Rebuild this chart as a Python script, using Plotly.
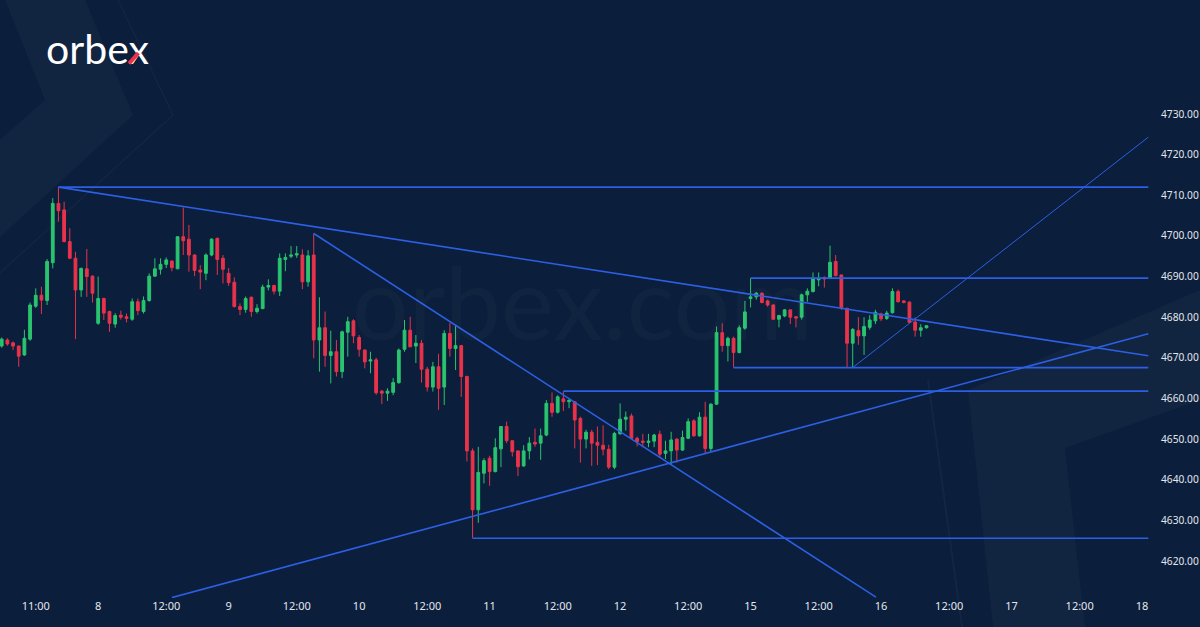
import plotly.graph_objects as go

# ---------------- data (hourly candles, bar index 0 = first visible bar) ----------------
opens = [4672.9, 4674.4, 4673.7, 4672.9, 4670.7, 4674.6, 4682.7, 4685.4, 4684.1, 4693.4,
         4708.0, 4706.4, 4698.6, 4694.5, 4686.7, 4691.9, 4690.1, 4678.5, 4684.6, 4681.4,
         4678.3, 4680.5, 4680.1, 4679.5, 4683.8, 4681.4, 4684.1, 4690.1, 4691.8, 4693.0,
         4693.8, 4691.9, 4699.8, 4699.2, 4695.3, 4691.6, 4690.8, 4695.3, 4699.4, 4694.5,
         4690.8, 4688.6, 4682.6, 4681.9, 4684.9, 4681.4, 4682.1, 4687.4, 4687.8, 4686.4,
         4694.2, 4695.0, 4695.3, 4695.3, 4688.7, 4695.3, 4674.4, 4677.4, 4670.6, 4671.5,
         4666.6, 4676.3, 4679.1, 4675.0, 4671.9, 4669.2, 4669.5, 4661.8, 4661.3, 4661.5,
         4663.9, 4672.1, 4676.8, 4672.9, 4673.6, 4667.2, 4662.8, 4667.8, 4662.8, 4676.0,
         4672.3, 4673.0, 4665.4, 4647.1, 4632.6, 4641.6, 4645.3, 4642.0, 4647.6, 4653.1,
         4649.6, 4647.1, 4643.4, 4647.1, 4649.2, 4649.0, 4651.0, 4658.8, 4656.6, 4659.9,
         4659.2, 4659.2, 4655.1, 4650.0, 4651.7, 4649.2, 4648.5, 4647.5, 4643.1, 4651.3,
         4654.9, 4655.7, 4650.2, 4649.5, 4649.2, 4649.5, 4651.2, 4646.5, 4647.1, 4650.0,
         4647.3, 4650.2, 4654.5, 4650.8, 4655.4, 4647.7, 4658.6, 4676.2, 4673.0, 4674.8,
         4671.3, 4677.3, 4684.6, 4685.0, 4685.9, 4684.0, 4683.0, 4679.5, 4680.3, 4681.8,
         4680.1, 4680.0, 4685.5, 4686.3, 4689.2, 4689.8, 4689.6, 4693.7, 4690.4, 4682.2,
         4673.6, 4676.7, 4675.4, 4677.5, 4679.1, 4680.8, 4679.7, 4681.1, 4686.3, 4684.0,
         4683.7, 4678.8, 4676.8, 4677.4]
highs = [4675.0, 4674.8, 4674.0, 4673.0, 4676.9, 4683.6, 4687.1, 4687.5, 4694.3, 4709.3,
         4712.0, 4708.4, 4701.9, 4696.1, 4692.2, 4696.8, 4690.3, 4690.0, 4684.8, 4681.6,
         4681.0, 4681.6, 4680.9, 4684.6, 4684.6, 4685.1, 4690.8, 4694.5, 4694.5, 4694.7,
         4694.0, 4699.9, 4707.0, 4702.7, 4695.5, 4692.8, 4695.7, 4699.4, 4699.6, 4695.3,
         4692.1, 4689.8, 4683.4, 4685.1, 4685.1, 4683.2, 4688.0, 4689.3, 4688.0, 4695.7,
         4695.7, 4697.5, 4697.5, 4696.7, 4696.5, 4700.6, 4684.9, 4681.4, 4676.7, 4674.4,
         4676.7, 4680.1, 4679.5, 4675.6, 4672.1, 4671.5, 4670.0, 4662.1, 4662.5, 4665.0,
         4672.3, 4679.3, 4680.1, 4675.6, 4674.4, 4667.8, 4669.0, 4671.0, 4676.8, 4678.6,
         4677.8, 4673.2, 4665.6, 4647.7, 4648.1, 4645.3, 4645.9, 4650.2, 4653.2, 4654.3,
         4649.7, 4647.2, 4648.5, 4650.5, 4652.6, 4652.6, 4659.6, 4661.5, 4660.8, 4661.8,
         4660.1, 4659.4, 4655.5, 4652.3, 4652.3, 4653.1, 4653.4, 4648.6, 4651.8, 4658.8,
         4656.8, 4656.3, 4650.6, 4651.3, 4651.3, 4651.3, 4652.1, 4649.6, 4651.8, 4650.2,
         4652.1, 4655.1, 4654.9, 4656.6, 4659.2, 4658.8, 4677.7, 4678.5, 4675.2, 4675.2,
         4678.0, 4684.0, 4689.6, 4686.2, 4686.1, 4684.3, 4683.2, 4680.6, 4682.0, 4681.8,
         4680.3, 4685.8, 4687.1, 4691.0, 4691.0, 4690.0, 4697.6, 4695.3, 4690.4, 4682.2,
         4677.3, 4680.0, 4680.0, 4680.5, 4681.8, 4681.1, 4681.6, 4687.1, 4686.8, 4684.2,
         4683.9, 4680.0, 4678.3, 4678.0]
lows = [4672.5, 4673.0, 4671.9, 4667.8, 4670.5, 4674.2, 4682.3, 4680.8, 4683.0, 4692.0,
        4703.5, 4698.4, 4694.3, 4674.6, 4685.0, 4685.0, 4683.6, 4678.1, 4679.3, 4676.4,
        4677.4, 4679.4, 4678.7, 4679.1, 4680.5, 4680.9, 4683.8, 4689.9, 4690.5, 4692.1,
        4691.3, 4691.9, 4695.3, 4691.2, 4690.1, 4686.9, 4689.1, 4695.0, 4690.4, 4688.3,
        4687.7, 4682.4, 4680.5, 4681.1, 4680.1, 4680.9, 4682.0, 4686.6, 4685.6, 4685.2,
        4691.3, 4694.5, 4694.6, 4686.9, 4687.5, 4669.9, 4666.6, 4667.8, 4663.7, 4665.4,
        4665.0, 4670.3, 4673.6, 4670.3, 4667.4, 4666.2, 4660.9, 4658.6, 4659.4, 4660.8,
        4663.6, 4671.5, 4672.7, 4668.7, 4663.9, 4661.7, 4661.7, 4657.2, 4658.4, 4670.3,
        4667.0, 4660.4, 4644.5, 4625.6, 4629.4, 4639.1, 4638.5, 4641.8, 4643.1, 4649.0,
        4645.7, 4640.9, 4643.2, 4645.0, 4648.1, 4644.9, 4650.7, 4655.5, 4656.3, 4656.9,
        4657.6, 4647.7, 4644.2, 4647.7, 4643.4, 4643.6, 4646.0, 4642.6, 4642.6, 4651.1,
        4652.1, 4650.0, 4648.2, 4648.0, 4648.0, 4648.0, 4645.5, 4645.1, 4643.8, 4644.2,
        4647.1, 4650.0, 4650.6, 4650.6, 4646.3, 4646.9, 4658.4, 4671.5, 4669.1, 4667.6,
        4671.1, 4676.9, 4682.4, 4684.3, 4683.4, 4682.6, 4679.3, 4677.5, 4680.0, 4678.3,
        4677.5, 4679.4, 4683.8, 4686.1, 4687.6, 4687.3, 4689.6, 4690.2, 4681.8, 4667.6,
        4667.6, 4673.2, 4670.7, 4676.9, 4678.3, 4679.0, 4679.3, 4680.9, 4683.6, 4683.4,
        4678.6, 4675.2, 4675.2, 4677.2]
closes = [4674.6, 4673.4, 4672.9, 4670.4, 4674.8, 4683.0, 4685.4, 4684.2, 4693.7, 4708.0,
          4706.2, 4698.6, 4694.5, 4686.7, 4692.0, 4690.0, 4685.9, 4684.6, 4681.0, 4678.5,
          4680.4, 4680.0, 4679.7, 4683.8, 4681.6, 4684.1, 4690.1, 4691.9, 4693.0, 4694.1,
          4692.2, 4699.8, 4698.8, 4695.3, 4691.5, 4691.1, 4695.3, 4699.2, 4694.2, 4691.8,
          4688.5, 4682.6, 4681.9, 4684.6, 4681.4, 4682.2, 4687.4, 4687.8, 4686.4, 4694.5,
          4694.7, 4695.3, 4695.6, 4688.7, 4695.1, 4674.4, 4677.4, 4670.6, 4671.5, 4666.6,
          4676.4, 4678.9, 4675.4, 4672.1, 4669.0, 4669.5, 4661.4, 4661.3, 4661.8, 4663.9,
          4671.9, 4676.8, 4672.7, 4673.6, 4667.2, 4662.8, 4667.8, 4662.5, 4676.0, 4672.3,
          4673.0, 4665.4, 4647.1, 4632.6, 4641.8, 4644.7, 4642.0, 4647.9, 4653.1, 4649.6,
          4646.9, 4643.2, 4647.1, 4649.0, 4648.8, 4650.8, 4658.8, 4656.6, 4660.4, 4659.2,
          4659.5, 4654.7, 4650.0, 4651.7, 4649.0, 4648.5, 4647.5, 4643.1, 4651.4, 4654.9,
          4655.4, 4650.2, 4649.4, 4649.2, 4649.5, 4651.0, 4646.3, 4647.1, 4649.8, 4647.3,
          4650.4, 4654.3, 4650.8, 4655.4, 4647.7, 4658.6, 4676.2, 4673.0, 4674.8, 4671.3,
          4677.4, 4681.3, 4685.0, 4685.9, 4683.6, 4683.0, 4679.5, 4680.4, 4681.8, 4680.0,
          4679.8, 4685.5, 4686.4, 4689.6, 4689.6, 4689.4, 4693.5, 4690.2, 4682.2, 4673.6,
          4677.0, 4675.4, 4677.7, 4679.3, 4681.2, 4679.6, 4681.0, 4686.3, 4683.8, 4683.6,
          4678.7, 4676.8, 4677.4, 4677.9]
bar_index = list(range(len(opens)))

# time axis labels (bar index where each label sits)
tick_bars = [6, 17, 29, 40, 52, 63, 75, 86, 98, 109, 121, 132, 144, 155, 167, 178, 190, 201]
tick_labels = ["11:00", "8", "12:00", "9", "12:00", "10", "12:00", "11", "12:00", "12",
               "12:00", "15", "12:00", "16", "12:00", "17", "12:00", "18"]
price_ticks = [4620, 4630, 4640, 4650, 4660, 4670, 4680, 4690, 4700, 4710, 4720, 4730]

# analysis lines: horizontal levels (start bar, price) and trend lines (bar0, p0, bar1, p1)
chart_end_bar = 202.1
level_start_bars = [10, 132, 129, 99, 83]
level_prices = [4712.0, 4689.6, 4667.6, 4661.8, 4625.6]
trend_x0 = [10, 55, 30.0]
trend_y0 = [4712.0, 4700.6, 4611.0]
trend_x1 = [chart_end_bar, 154.1, chart_end_bar]
trend_y1 = [4670.5, 4611.1, 4675.9]
thin_trend = (150, 4667.6, chart_end_bar, 4724.3)

# ---------------- styling ----------------
BG = "#0b1e3b"
GREEN = "#2ac46f"
RED = "#e8334a"
LINE = "#2d5fe4"

fig = go.Figure()
fig.add_trace(go.Candlestick(
    x=bar_index, open=opens, high=highs, low=lows, close=closes,
    increasing=dict(line=dict(color=GREEN, width=1), fillcolor=GREEN),
    decreasing=dict(line=dict(color=RED, width=1), fillcolor=RED),
    whiskerwidth=0, hoverinfo="skip", showlegend=False,
))

shapes = []
# decorative background chevrons (paper-pixel helpers)
W, H = 1150.0, 598.0
def px(x, y):
    return x / W, (H - y) / H
def path(points, close=True):
    s = ""
    for i, (x, y) in enumerate(points):
        X, Y = px(x, y)
        s += ("M" if i == 0 else "L") + f"{X:.5f},{Y:.5f} "
    return s + ("Z" if close else "")

shapes.append(dict(type="path", xref="paper", yref="paper", layer="below", line=dict(width=0),
                   fillcolor="rgba(255,255,255,0.028)",
                   path=path([(5, 0), (85, 0), (133, 115), (0, 237), (0, 140), (45, 100)])))
shapes.append(dict(type="path", xref="paper", yref="paper", layer="below",
                   line=dict(width=1.5, color="rgba(255,255,255,0.03)"),
                   path=path([(118, 0), (173, 115), (0, 273)], close=False)))
shapes.append(dict(type="path", xref="paper", yref="paper", layer="below", line=dict(width=0),
                   fillcolor="rgba(255,255,255,0.028)",
                   path=path([(968, 390), (1200, 290), (1200, 400), (1065, 448), (1085, 627), (993, 627)])))
shapes.append(dict(type="line", xref="paper", yref="paper", layer="below",
                   x0=px(928, 380)[0], y0=px(928, 380)[1], x1=px(962, 627)[0], y1=px(962, 627)[1],
                   line=dict(width=2, color="rgba(255,255,255,0.03)")))

# horizontal levels
for xs, p in zip(level_start_bars, level_prices):
    shapes.append(dict(type="line", xref="x", yref="y", x0=xs, x1=chart_end_bar, y0=p, y1=p,
                       line=dict(color=LINE, width=1.6)))
# trend lines
for x0, y0, x1, y1 in zip(trend_x0, trend_y0, trend_x1, trend_y1):
    shapes.append(dict(type="line", xref="x", yref="y", x0=x0, y0=y0, x1=x1, y1=y1,
                       line=dict(color=LINE, width=1.6)))
shapes.append(dict(type="line", xref="x", yref="y", x0=thin_trend[0], y0=thin_trend[1],
                   x1=thin_trend[2], y1=thin_trend[3], line=dict(color=LINE, width=1)))

annotations = [
    dict(text="orbex.com", xref="paper", yref="paper", x=px(582, 0)[0], y=px(0, 301)[1],
         showarrow=False, font=dict(family="Lato", size=100, color="rgba(255,255,255,0.025)"),
         xanchor="center", yanchor="middle"),
    dict(text="orbex", xref="paper", yref="paper", x=px(44, 0)[0], y=px(0, 49)[1],
         showarrow=False, font=dict(family="Lato", size=41, color="#ffffff"),
         xanchor="left", yanchor="middle"),
    # red lower-left stroke of the logo "x" (drawn as a small rotated red bar on top of the text)
    dict(text=" ", xref="paper", yref="paper", x=px(133.5, 0)[0], y=px(0, 57.8)[1],
         showarrow=False, font=dict(size=1, color=RED), width=3.5, height=14,
         bgcolor=RED, borderpad=0, borderwidth=0, textangle=41,
         xanchor="center", yanchor="middle"),
]

fig.update_layout(
    width=1200, height=627,
    margin=dict(l=0, r=50, t=0, b=29),
    paper_bgcolor=BG, plot_bgcolor=BG,
    showlegend=False, hovermode=False,
    shapes=shapes, annotations=annotations,
    xaxis=dict(range=[-0.3, 202.4], rangeslider=dict(visible=False), showgrid=False,
               zeroline=False, showline=False, tickmode="array", tickvals=tick_bars,
               ticktext=tick_labels, ticks="", tickfont=dict(family="Noto Sans", size=11, color="#e4e7ee")),
    yaxis=dict(range=[4610.9, 4758.05], side="right", showgrid=False, zeroline=False,
               showline=False, tickmode="array", tickvals=price_ticks,
               ticktext=[f"{v:.2f}" for v in price_ticks], ticks="outside", ticklen=8,
               tickcolor="rgba(0,0,0,0)",
               tickfont=dict(family="Noto Sans", size=10.2, color="#e4e7ee")),
)

fig.write_html("out.html", config={"displayModeBar": False, "staticPlot": True},
               post_script="document.body.style.margin='0';document.body.style.background='%s';" % BG)
